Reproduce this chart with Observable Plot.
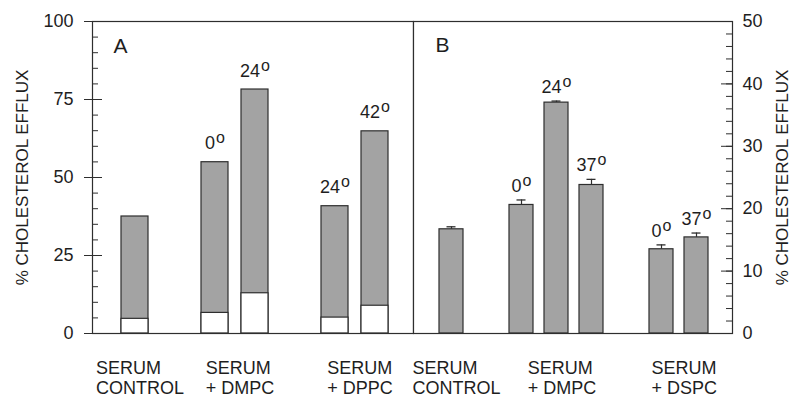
<!DOCTYPE html>
<html>
<head>
<meta charset="utf-8">
<script src="https://cdn.jsdelivr.net/npm/d3@7"></script>
<script src="https://cdn.jsdelivr.net/npm/@observablehq/plot@0.6"></script>
<style>
  body { margin: 0; background: #fff; }
  #chart { position: relative; width: 791px; height: 397px; overflow: hidden; background: #fff;
           font-family: "Liberation Sans", Arial, sans-serif; }
  #chart svg { position: absolute; top: 0; background: transparent; }
</style>
</head>
<body>
<div id="chart"></div>
<script>
// ---------------- data ----------------
const panelNames = ["A", "B"];
const yTitle = "% CHOLESTEROL EFFLUX";

// Panel A (left axis, 0–100)
const groupsA = ["SERUM\nCONTROL", "SERUM\n+ DMPC", "SERUM\n+ DPPC"];
const barGroupA = [0, 1, 1, 2, 2];
const totalA = [37.5, 54.9, 78.2, 40.8, 64.8];
const baseA = [4.7, 6.6, 12.9, 5.1, 8.9];
const tempA = ["", "0", "24", "24", "42"];
const ticksA = [0, 25, 50, 75, 100];
const minorA = d3.range(0, 101, 5);

// Panel B (right axis, 0–50)
const groupsB = ["SERUM\nCONTROL", "SERUM\n+ DMPC", "SERUM\n+ DSPC"];
const barGroupB = [0, 1, 1, 1, 2, 2];
const meanB = [16.7, 20.6, 37.0, 23.8, 13.5, 15.4];
const errB = [0.4, 0.8, 0.25, 0.9, 0.7, 0.7];
const tempB = ["", "0", "24", "37", "0", "37"];
const ticksB = [0, 10, 20, 30, 40, 50];
const minorB = d3.range(0, 51, 2);

// ---------------- layout / style ----------------
const H = 397, TOP = 21, BOTTOM = 64;
const FONT = '"Liberation Sans", Arial, sans-serif';
const INK = "#1e1e1e";
const BAR_FILL = "#a3a3a3";
const LINE = "#2e2e2e";

// slot index: one empty slot between groups
const slots = (groups) => groups.map((g, i) => i + g);
const rowsA = totalA.map((t, i) => ({slot: slots(barGroupA)[i], group: barGroupA[i], total: t, base: baseA[i], temp: tempA[i]}));
const rowsB = meanB.map((m, i) => ({slot: slots(barGroupB)[i], group: barGroupB[i], mean: m, top: m + errB[i], temp: tempB[i]}));

const ctx = document.createElement("canvas").getContext("2d");
ctx.font = `18px ${FONT}`;
const maxLineWidth = (s) => d3.max(s.split("\n"), (l) => ctx.measureText(l).width);

function categoryMarks(rows, groups, xOpts) {
  const sx = Plot.scale({x: xOpts});
  const bw = sx.bandwidth;
  return groups.map((label, g) => {
    const gs = rows.filter((d) => d.group === g).map((d) => d.slot);
    const first = gs[0];
    const centerPx = d3.mean(gs, (s) => sx.apply(s) + bw / 2);
    const firstPx = sx.apply(first) + bw / 2;
    const dx = centerPx - firstPx - maxLineWidth(label) / 2 + 5;
    return Plot.text([{slot: first, label}], {
      x: "slot", text: "label", frameAnchor: "bottom", textAnchor: "start", lineAnchor: "top",
      dy: 27, dx, fontSize: 18, lineHeight: 1.09, fill: INK
    });
  });
}

// temperature labels carry fontStyle "normal" so they can be found after rendering
function superscriptDegrees(svg) {
  d3.select(svg).selectAll('g[font-style="normal"] text').each(function () {
    const t = d3.select(this);
    if (t.select("tspan.sup").empty()) {
      t.append("tspan").attr("class", "sup").attr("font-size", 16).attr("dx", 1).attr("dy", -6).text("o");
    }
  });
}

// ---------------- Panel A ----------------
const WA = 414;
const xOptsA = {type: "band", domain: d3.range(d3.max(rowsA, (d) => d.slot) + 1),
  paddingInner: 0.325, paddingOuter: 0.675, align: 0.537, range: [92, WA - 1]};

const plotA = Plot.plot({
  width: WA, height: H, marginLeft: 92, marginRight: 1, marginTop: TOP, marginBottom: BOTTOM,
  style: {fontFamily: FONT, color: INK, background: "transparent"},
  x: {...xOptsA, axis: null},
  y: {domain: [0, 100], label: null},
  marks: [
    Plot.barY(rowsA, {x: "slot", y: "total", fill: BAR_FILL, stroke: LINE, strokeWidth: 1.2}),
    Plot.barY(rowsA, {x: "slot", y: "base", fill: "#fff", stroke: LINE, strokeWidth: 1.2}),
    Plot.frame({stroke: LINE, strokeWidth: 1.2}),
    Plot.axisY({ticks: ticksA, anchor: "left", tickSize: 8, tickPadding: 11, fontSize: 18, label: null, stroke: LINE, fill: INK}),
    Plot.axisY({ticks: ticksA, anchor: "left", tickSize: -10, tickFormat: () => "", label: null, stroke: LINE}),
    Plot.axisY({ticks: minorA, anchor: "left", tickSize: -6, tickFormat: () => "", label: null, stroke: LINE}),
    Plot.text(rowsA.filter((d) => d.temp), {x: "slot", y: "total", text: "temp", dy: -13, lineAnchor: "bottom",
      fontSize: 18, fontStyle: "normal", fill: INK}),
    Plot.text([panelNames[0]], {frameAnchor: "top-left", dx: 21, dy: 17, textAnchor: "start", lineAnchor: "top", fontSize: 21, fill: INK}),
    Plot.text([yTitle], {frameAnchor: "left", rotate: -90, dx: -70, textAnchor: "middle", lineAnchor: "middle", fontSize: 17, fill: INK}),
    ...categoryMarks(rowsA, groupsA, xOptsA)
  ]
});
superscriptDegrees(plotA);
plotA.style.left = "0px";

// ---------------- Panel B ----------------
const WB = 378, BLEFT = 413;
const xOptsB = {type: "band", domain: d3.range(d3.max(rowsB, (d) => d.slot) + 1),
  paddingInner: 0.324, paddingOuter: 0.655, align: 0.516, range: [0, WB - 59]};

const plotB = Plot.plot({
  width: WB, height: H, marginLeft: 0, marginRight: 59, marginTop: TOP, marginBottom: BOTTOM,
  style: {fontFamily: FONT, color: INK, background: "transparent", overflow: "visible"},
  x: {...xOptsB, axis: null},
  y: {domain: [0, 50], label: null},
  marks: [
    Plot.ruleX(rowsB, {x: "slot", y1: "mean", y2: "top", stroke: LINE, strokeWidth: 1.2}),
    Plot.tickY(rowsB, {x: "slot", y: "top", insetLeft: 7.5, insetRight: 7.5, stroke: LINE, strokeWidth: 1.3}),
    Plot.barY(rowsB, {x: "slot", y: "mean", fill: BAR_FILL, stroke: LINE, strokeWidth: 1.2}),
    Plot.frame({stroke: LINE, strokeWidth: 1.2}),
    Plot.axisY({ticks: ticksB, anchor: "right", tickSize: 0, tickPadding: 10, fontSize: 18, label: null, fill: INK}),
    Plot.axisY({ticks: ticksB, anchor: "right", tickSize: -12, tickFormat: () => "", label: null, stroke: LINE}),
    Plot.axisY({ticks: minorB, anchor: "right", tickSize: -7, tickFormat: () => "", label: null, stroke: LINE}),
    Plot.text(rowsB.filter((d) => d.temp), {x: "slot", y: "top", text: "temp", dy: -8, lineAnchor: "bottom",
      fontSize: 18, fontStyle: "normal", fill: INK}),
    Plot.text([panelNames[1]], {frameAnchor: "top-left", dx: 22, dy: 16, textAnchor: "start", lineAnchor: "top", fontSize: 21, fill: INK}),
    Plot.text([yTitle], {frameAnchor: "right", rotate: -90, dx: 50.5, textAnchor: "middle", lineAnchor: "middle", fontSize: 17, fill: INK}),
    ...categoryMarks(rowsB, groupsB, xOptsB)
  ]
});
superscriptDegrees(plotB);
plotB.style.left = BLEFT + "px";

const chart = document.getElementById("chart");
chart.append(plotA, plotB);
</script>
</body>
</html>
